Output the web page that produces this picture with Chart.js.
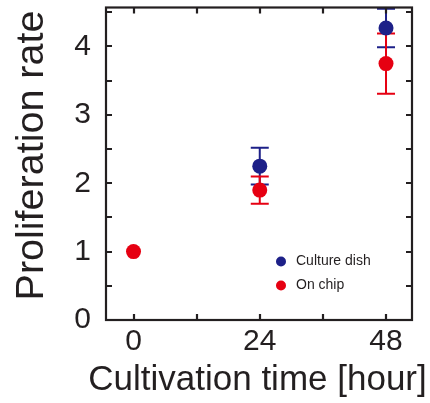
<!DOCTYPE html>
<html>
<head>
<meta charset="utf-8">
<script src="https://cdn.jsdelivr.net/npm/chart.js@4"></script>
<style>
html,body{margin:0;padding:0;background:#fff;}
#wrap{width:430px;height:403px;position:relative;}
</style>
</head>
<body>
<div id="wrap"><canvas id="c" width="430" height="403"></canvas></div>
<script>
// ---- data ----
const seriesLabels = ['Culture dish', 'On chip'];
const dishTime = [24, 48];
const dishRate = [2.25, 4.27];
const dishErr  = [0.27, 0.28];
const chipTime = [0, 24, 48];
const chipRate = [1.0, 1.90, 3.75];
const chipErr  = [0, 0.20, 0.44];
const xTickValues = [0, 24, 48];
const yTickValues = [0, 1, 2, 3, 4];
const xMinorValues = [0, 12, 24, 36, 48];
const yMinorValues = [0, 0.5, 1, 1.5, 2, 2.5, 3, 3.5, 4, 4.5];
const xTitle = 'Cultivation time [hour]';
const yTitle = 'Proliferation rate';

const BLUE = '#1d2088';
const RED = '#e60012';
const INK = '#231f20';
const FONT = "'Liberation Sans', Arial, sans-serif";

const toPts = (xs, ys) => xs.map((x, i) => ({x: x, y: ys[i]}));

const errorBars = {
  id: 'errorBars',
  beforeDatasetsDraw(chart) {
    const ctx = chart.ctx, xs = chart.scales.x, ys = chart.scales.y;
    chart.data.datasets.forEach((ds) => {
      ctx.save();
      ctx.strokeStyle = ds.backgroundColor;
      ctx.lineWidth = 2;
      ds.data.forEach((p, i) => {
        const e = ds.errors[i];
        if (!e) return;
        const px = xs.getPixelForValue(p.x);
        const top = ys.getPixelForValue(p.y + e);
        const bot = ys.getPixelForValue(p.y - e);
        ctx.beginPath();
        ctx.moveTo(px, top); ctx.lineTo(px, bot);
        ctx.moveTo(px - 9, top); ctx.lineTo(px + 9, top);
        ctx.moveTo(px - 9, bot); ctx.lineTo(px + 9, bot);
        ctx.stroke();
      });
      ctx.restore();
    });
  }
};

const frameTicks = {
  id: 'frameTicks',
  afterDraw(chart) {
    const ctx = chart.ctx, a = chart.chartArea, xs = chart.scales.x, ys = chart.scales.y;
    ctx.save();
    ctx.strokeStyle = INK;
    ctx.lineWidth = 2.2;
    ctx.strokeRect(a.left, a.top, a.right - a.left, a.bottom - a.top);
    const L = 6;
    ctx.beginPath();
    xMinorValues.forEach(v => {
      const px = Math.round(xs.getPixelForValue(v));
      ctx.moveTo(px, a.bottom); ctx.lineTo(px, a.bottom - L);
      ctx.moveTo(px, a.top); ctx.lineTo(px, a.top + L);
    });
    yMinorValues.forEach(v => {
      const py = Math.round(ys.getPixelForValue(v));
      ctx.moveTo(a.left, py); ctx.lineTo(a.left + L, py);
      ctx.moveTo(a.right, py); ctx.lineTo(a.right - L, py);
    });
    ctx.stroke();
    ctx.restore();
  }
};

const axisTitles = {
  id: 'axisTitles',
  afterDraw(chart, args, opts) {
    const ctx = chart.ctx, a = chart.chartArea;
    ctx.save();
    ctx.fillStyle = INK;
    ctx.textAlign = 'center';
    ctx.textBaseline = 'alphabetic';
    // x title
    ctx.font = opts.xSize + 'px ' + FONT;
    ctx.fillText(xTitle, (a.left + a.right) / 2 + opts.xDx, a.bottom + opts.xBaselineDy);
    // y title
    ctx.font = opts.ySize + 'px ' + FONT;
    ctx.translate(opts.yBaselineX, a.top + opts.yCenterDy);
    ctx.rotate(-Math.PI / 2);
    ctx.fillText(yTitle, 0, 0);
    ctx.restore();
  }
};

const innerLegend = {
  id: 'innerLegend',
  afterDraw(chart, args, opts) {
    const ctx = chart.ctx, a = chart.chartArea;
    ctx.save();
    ctx.font = '14px ' + FONT;
    ctx.textBaseline = 'middle';
    chart.data.datasets.forEach((ds, i) => {
      const cx = a.left + opts.dx, cy = a.top + opts.dy + i * opts.gap;
      ctx.fillStyle = ds.backgroundColor;
      ctx.beginPath(); ctx.arc(cx, cy, 5, 0, Math.PI * 2); ctx.fill();
      ctx.fillStyle = INK;
      ctx.fillText(ds.label, cx + 15, cy);
    });
    ctx.restore();
  }
};

new Chart(document.getElementById('c'), {
  type: 'scatter',
  data: {
    datasets: [
      {label: seriesLabels[0], data: toPts(dishTime, dishRate), errors: dishErr,
       backgroundColor: BLUE, borderColor: BLUE, pointRadius: 7.5, pointHoverRadius: 7.5, borderWidth: 0},
      {label: seriesLabels[1], data: toPts(chipTime, chipRate), errors: chipErr,
       backgroundColor: RED, borderColor: RED, pointRadius: 7.5, pointHoverRadius: 7.5, borderWidth: 0}
    ]
  },
  options: {
    responsive: false,
    animation: false,
    layout: {padding: {left: 0, top: 6, right: 18, bottom: 0}},
    plugins: {
      legend: {display: false},
      tooltip: {enabled: false},
      innerLegend: {dx: 175, dy: 254, gap: 24},
      axisTitles: {xSize: 35, xDx: -1.5, xBaselineDy: 70, ySize: 39.5, yBaselineX: 43, yCenterDy: 148}
    },
    scales: {
      x: {
        type: 'linear', min: -5.23, max: 52.94,
        afterBuildTicks: s => { s.ticks = xTickValues.map(v => ({value: v})); },
        afterFit: s => { s.height = 83; s.paddingLeft = 0; s.paddingRight = 0; },
        grid: {display: false, drawTicks: false},
        border: {display: false},
        ticks: {color: INK, font: {family: FONT, size: 30}, padding: 4, maxRotation: 0},
        title: {display: false}
      },
      y: {
        type: 'linear', min: 0, max: 4.57,
        afterBuildTicks: s => { s.ticks = yTickValues.map(v => ({value: v})); },
        afterFit: s => { s.width = 106; s.paddingTop = 0; s.paddingBottom = 0; },
        grid: {display: false, drawTicks: false},
        border: {display: false},
        ticks: {color: INK, font: {family: FONT, size: 30}, padding: 15},
        title: {display: false}
      }
    }
  },
  plugins: [errorBars, frameTicks, axisTitles, innerLegend]
});
</script>
</body>
</html>
